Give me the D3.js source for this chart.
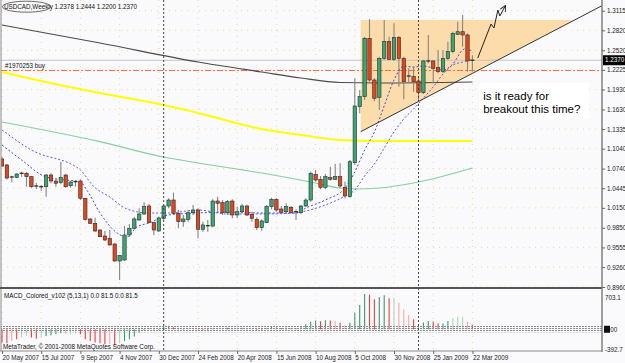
<!DOCTYPE html>
<html><head><meta charset="utf-8">
<script src="https://cdn.jsdelivr.net/npm/d3@7/dist/d3.min.js"></script>
<style>body{margin:0;background:#faf9fc;} svg{display:block;font-family:"Liberation Sans",Arial,sans-serif;}</style>
</head><body><svg id="c" width="625" height="363"></svg>
<script>
// ---- data (weekly USDCAD, week index 0 = 20 May 2007) ----
const opens = [1.0885,1.0795,1.0614,1.0610,1.0670,1.0670,1.0619,1.0479,1.0468,1.0468,1.0644,1.0554,1.0529,1.0644,1.0483,1.0544,1.0554,1.0294,0.9983,0.9918,0.9817,0.9727,0.9692,0.9607,0.9351,0.9366,0.9742,0.9843,0.9968,1.0058,1.0178,0.9927,0.9802,0.9993,1.0178,1.0268,1.0068,0.9942,0.9978,1.0077,1.0118,0.9828,0.9882,0.9877,1.0253,1.0228,1.0077,1.0253,1.0043,1.0092,1.0178,1.0053,0.9978,0.9852,0.9927,1.0168,1.0279,1.0133,1.0092,1.0159,1.0092,1.0077,1.0178,1.0268,1.0655,1.0580,1.0459,1.0604,1.0580,1.0619,1.0459,1.0318,1.0829,1.1672,1.1822,1.2700,1.2073,1.1813,1.2399,1.2649,1.2384,1.2715,1.2399,1.2133,1.2123,1.2058,1.1882,1.2359,1.2359,1.2258,1.2198,1.2399,1.2499,1.2760,1.2799,1.2750,1.2378];
const highs = [1.0915,1.0810,1.0634,1.0670,1.0694,1.0689,1.0629,1.0524,1.0494,1.0659,1.0670,1.0595,1.0844,1.0659,1.0559,1.0569,1.0580,1.0299,0.9993,1.0002,0.9827,0.9802,0.9817,0.9617,0.9441,0.9877,0.9907,1.0018,1.0144,1.0234,1.0208,0.9942,1.0018,1.0193,1.0294,1.0379,1.0118,1.0043,1.0118,1.0193,1.0144,0.9942,0.9968,1.0279,1.0318,1.0268,1.0268,1.0279,1.0168,1.0208,1.0198,1.0092,1.0008,0.9978,1.0193,1.0303,1.0294,1.0178,1.0219,1.0178,1.0128,1.0193,1.0294,1.0694,1.0719,1.0629,1.0659,1.0769,1.0810,1.0820,1.0544,1.0870,1.2099,1.1922,1.2724,1.2989,1.2099,1.2423,1.2975,1.2724,1.2926,1.2735,1.2423,1.2249,1.2273,1.2123,1.2374,1.2750,1.2374,1.2524,1.2524,1.2649,1.2799,1.2950,1.3050,1.2775,1.2444];
const lows = [1.0765,1.0577,1.0535,1.0595,1.0619,1.0468,1.0453,1.0434,1.0408,1.0318,1.0520,1.0468,1.0505,1.0453,1.0453,1.0468,1.0268,0.9957,0.9908,0.9791,0.9707,0.9652,0.9581,0.9341,0.9065,0.9356,0.9716,0.9832,0.9957,1.0043,0.9918,0.9742,0.9791,0.9968,1.0144,1.0043,0.9843,0.9867,0.9942,1.0043,0.9693,0.9791,0.9791,0.9858,1.0092,1.0043,1.0043,0.9993,0.9993,1.0068,1.0028,0.9942,0.9817,0.9806,0.9918,1.0128,1.0092,1.0058,1.0058,1.0068,0.9968,1.0058,1.0168,1.0243,1.0544,1.0429,1.0429,1.0559,1.0569,1.0444,1.0294,1.0303,1.0795,1.1572,1.1772,1.2048,1.1752,1.1622,1.2374,1.2374,1.2359,1.1972,1.1783,1.2032,1.1897,1.1747,1.1862,1.2324,1.2023,1.2174,1.2174,1.2374,1.2474,1.2750,1.2574,1.2198,1.2200];
const closes = [1.0780,1.0599,1.0614,1.0659,1.0670,1.0619,1.0468,1.0479,1.0468,1.0644,1.0554,1.0520,1.0604,1.0468,1.0539,1.0544,1.0294,0.9978,0.9918,0.9802,0.9716,0.9667,0.9592,0.9351,0.9437,0.9742,0.9843,0.9983,1.0058,1.0168,0.9927,0.9817,0.9998,1.0178,1.0268,1.0068,0.9942,0.9983,1.0077,1.0118,0.9828,0.9893,0.9882,1.0253,1.0219,1.0077,1.0243,1.0043,1.0092,1.0178,1.0043,0.9993,0.9852,0.9953,1.0168,1.0279,1.0118,1.0083,1.0168,1.0083,1.0092,1.0178,1.0268,1.0670,1.0569,1.0459,1.0619,1.0580,1.0619,1.0479,1.0329,1.0844,1.1682,1.1822,1.2700,1.2073,1.1798,1.2399,1.2649,1.2384,1.2715,1.2399,1.2047,1.2133,1.2047,1.1882,1.2359,1.2359,1.2249,1.2198,1.2399,1.2499,1.2775,1.2799,1.2750,1.2359,1.2370];

// moving averages: [week index, price]
const maDark   = [[0,1.2900],[20,1.2629],[40,1.2344],[53,1.2193],[61,1.2103],[69,1.2035],[77,1.2028],[96,1.2043]];
const maYellow = [[0,1.2193],[7,1.2073],[20,1.1878],[33,1.1697],[40,1.1577],[54,1.1321],[61,1.1246],[69,1.1171],[77,1.1156],[96,1.1156]];
const maGreen  = [[0,1.1441],[20,1.1145],[33,1.0915],[40,1.0825],[53,1.0674],[63,1.0539],[69,1.0449],[72,1.0434],[77,1.0449],[85,1.0539],[96,1.0750]];
const maFast   = [[0,1.1095],[4,1.0870],[9,1.0614],[13,1.0569],[16,1.0539],[17.3,1.0419],[20,1.0073],[23.5,0.9772],[25.5,0.9712],[27.5,0.9862],[30,0.9922],[34,1.0043],[40,1.0073],[46,1.0088],[53,1.0073],[60,1.0073],[62,1.0148],[66,1.0268],[70,1.0449],[72,1.0690],[74,1.1020],[76,1.1291],[78,1.1682],[80,1.2073],[82,1.2283],[84,1.2268],[86,1.2283],[88,1.2253],[90,1.2223],[92,1.2313],[94,1.2524],[95,1.2554],[96,1.2479]];
const maSlow   = [[0,1.1321],[6,1.1020],[16,1.0719],[18.6,1.0479],[22,1.0313],[25.5,1.0133],[30,1.0073],[34,1.0073],[40,1.0118],[46,1.0058],[53,1.0058],[60,1.0073],[62,1.0103],[66,1.0193],[70,1.0328],[72,1.0419],[74,1.0630],[76,1.0810],[78,1.1050],[80,1.1291],[82,1.1487],[84,1.1637],[86,1.1802],[88,1.1968],[90,1.2163],[92,1.2298],[94,1.2343],[96,1.2389]];

const macd = [-265,-279,-232,-199,-166,-133,-166,-186,-166,-133,-119,-100,-80,-100,-100,-80,-100,-199,-232,-265,-279,-298,-298,-318,-279,-232,-199,-146,-66,
 -20,20,-10,-15,60,70,40,10,-10,5,20,-10,-25,-30,10,25,20,30,10,15,30,25,5,-20,-20,15,45,35,25,30,25,20,40,
 100,150,175,160,178,175,165,130,80,130,332,484,703,690,597,643,676,617,630,531,398,285,199,100,133,166,153,113,113,166,219,252,252,153,86];
const macdColor = ["r","r","lr","r","lg","lg","r","r","lg","g","g","g","g","lr","lg","lg","r","r","r","r","r","r","lr","r","lg","g","g","g","g",
 "g","g","r","g","g","g","r","r","r","g","g","r","r","r","g","g","r","g","r","g","g","r","r","r","g","g","g","r","r","g","r","r","g",
 "g","g","g","r","g","r","lr","r","lr","g","g","g","g","r","r","g","g","r","lg","lr","lr","lr","r","lr","g","g","r","r","g","g","lg","lg","lg","lr","r"];

const priceTicks = [1.3115,1.2820,1.2520,1.2225,1.1930,1.1630,1.1335,1.1040,1.0740,1.0445,1.0150,0.9850,0.9555,0.9260,0.8960];
const dateTickIdx = [0,8,16,24,32,40,48,56,64,72,80,88,96];
const dateTickLabels = ["20 May 2007","15 Jul 2007","9 Sep 2007","4 Nov 2007","30 Dec 2007","24 Feb 2008","20 Apr 2008","15 Jun 2008","10 Aug 2008","5 Oct 2008","30 Nov 2008","25 Jan 2009","22 Mar 2009"];
const yearSeparators = [33,85];
const macdTicks = [703.1,0,-392.7];

// drawings (data coordinates)
const triangle = [[73.2,1.2975],[116.7,1.2975],[73.2,1.1296]];
const trendPts = [[73.2,1.1296],[98.6,1.2273]];
const arrowPts = [[97.1,1.2404],[99.8,1.2915],[100.4,1.2855],[101.2,1.3125],[101.6,1.3035],[102.7,1.3186]];
const bidPrice = 1.2370, orderPrice = 1.2215;
const noteAnchor = [98.2,1.1772];

// ---- scales ----
const W=625,H=363, PR=602, MAINB=288, BOT=351;
const x = d3.scaleLinear().domain([0,96]).range([2,472.4]);
const y = d3.scaleLinear().domain([0.896,1.3115]).range([287,10.7]);
const ym = d3.scaleLinear().domain([-392.7,703.1]).range([349,294]);

const svg = d3.select("#c");
const defs = svg.append("defs");
defs.append("clipPath").attr("id","mainclip").append("rect").attr("x",1).attr("y",0).attr("width",PR-1).attr("height",MAINB);
const pat = defs.append("pattern").attr("id","band").attr("width",3).attr("height",2).attr("patternUnits","userSpaceOnUse");
pat.append("rect").attr("width",2).attr("height",1).attr("fill","#8c8c8c");
defs.append("marker").attr("id","ah").attr("viewBox","0 0 10 10").attr("refX",9).attr("refY",5)
  .attr("markerWidth",6).attr("markerHeight",6).attr("orient","auto")
  .append("path").attr("d","M0,0 L10,5 L0,10").attr("fill","none").attr("stroke","#222").attr("stroke-width",1.5);

svg.append("rect").attr("width",W).attr("height",H).attr("fill","#faf9fc");

// grid (dotted)
const grid = svg.append("g").attr("stroke","#f1d79c").attr("stroke-width",1).attr("stroke-dasharray","1 5");
grid.selectAll("line.h").data(priceTicks).join("line").attr("x1",1).attr("x2",PR).attr("y1",d=>y(d)).attr("y2",d=>y(d));
grid.selectAll("line.v").data(dateTickIdx).join("line").attr("x1",d=>x(d)).attr("x2",d=>x(d)).attr("y1",0).attr("y2",BOT);

const main = svg.append("g").attr("clip-path","url(#mainclip)");
// triangle
main.append("path").attr("d", d3.line().x(d=>x(d[0])).y(d=>y(d[1]))(triangle)+"Z").attr("fill","#fcdcab");

// bid & order lines
main.append("line").attr("x1",1).attr("x2",PR).attr("y1",y(bidPrice)).attr("y2",y(bidPrice)).attr("stroke","#c4c4c4");
main.append("line").attr("x1",1).attr("x2",PR).attr("y1",y(orderPrice)).attr("y2",y(orderPrice)).attr("stroke","#ff6a3d").attr("stroke-dasharray","6 2 2 2");

// MAs
const ln = d3.line().x(d=>x(d[0])).y(d=>y(d[1])).curve(d3.curveMonotoneX);
main.append("path").attr("d",ln(maYellow)).attr("fill","none").attr("stroke","#ffff00").attr("stroke-width",2);
main.append("path").attr("d",ln(maGreen)).attr("fill","none").attr("stroke","#86cfa2").attr("stroke-width",1.2);
main.append("path").attr("d",ln(maDark)).attr("fill","none").attr("stroke","#4a4a4a").attr("stroke-width",1.2);
main.append("path").attr("d",ln(maSlow)).attr("fill","none").attr("stroke","#5a5aee").attr("stroke-width",1).attr("stroke-dasharray","2 2");
main.append("path").attr("d",ln(maFast)).attr("fill","none").attr("stroke","#4848e8").attr("stroke-width",1).attr("stroke-dasharray","2 2");

// candles
const idx = d3.range(opens.length);
const cg = main.append("g");
cg.selectAll("line.w").data(idx).join("line").attr("x1",i=>x(i)).attr("x2",i=>x(i))
  .attr("y1",i=>y(highs[i])).attr("y2",i=>y(lows[i])).attr("stroke","#858585").attr("stroke-width",1.1);
const isDoji = i => Math.abs(opens[i]-closes[i]) < 0.0012;
cg.selectAll("rect.b").data(idx.filter(i=>!isDoji(i))).join("rect")
  .attr("x",i=>x(i)-1.7).attr("width",3.4)
  .attr("y",i=>y(Math.max(opens[i],closes[i])))
  .attr("height",i=>Math.max(1,Math.abs(y(opens[i])-y(closes[i]))))
  .attr("fill",i=>closes[i]>opens[i]?"#37a873":"#e4461c").attr("stroke","#2b2b2b").attr("stroke-width",0.6);
cg.selectAll("line.d").data(idx.filter(isDoji)).join("line")
  .attr("x1",i=>x(i)-2).attr("x2",i=>x(i)+2).attr("y1",i=>y(closes[i])).attr("y2",i=>y(closes[i]))
  .attr("stroke","#222").attr("stroke-width",1.2);

// trendline extended to the right edge
const slope = (trendPts[1][1]-trendPts[0][1])/(trendPts[1][0]-trendPts[0][0]);
const kEnd = x.invert(PR);
main.append("line").attr("x1",x(trendPts[0][0])).attr("y1",y(trendPts[0][1]))
  .attr("x2",x(kEnd)).attr("y2",y(trendPts[0][1]+slope*(kEnd-trendPts[0][0])))
  .attr("stroke","#333").attr("stroke-width",1);

// arrow
main.append("path").attr("d",d3.line().x(d=>x(d[0])).y(d=>y(d[1]))(arrowPts)).attr("fill","none")
  .attr("stroke","#222").attr("stroke-width",1).attr("marker-end","url(#ah)");

// note
const nx = x(noteAnchor[0]), ny = y(noteAnchor[1]);
svg.append("rect").attr("x",nx-4).attr("y",ny-17).attr("width",110).attr("height",36).attr("fill","#ffffff");
svg.append("text").attr("x",nx).attr("y",ny).attr("font-size",11.5).attr("fill","#000").text("is it ready for");
svg.append("text").attr("x",nx).attr("y",ny+13).attr("font-size",11.5).attr("fill","#000").text("breakout this time?");

// MACD histogram
const mg = svg.append("g");
const mcol = {g:"#3d9a6b",r:"#f23d3d",lg:"#a9d9b9",lr:"#f8a9a9"};
mg.selectAll("line").data(idx).join("line").attr("x1",i=>x(i)).attr("x2",i=>x(i))
  .attr("y1",ym(0)).attr("y2",i=>ym(macd[i])).attr("stroke",i=>mcol[macdColor[i]]).attr("stroke-width",1.1);
svg.append("rect").attr("x",1).attr("y",ym(0)-4).attr("width",PR-1).attr("height",7).attr("fill","url(#band)");

// year separators
svg.selectAll("line.sep").data(yearSeparators).join("line").attr("x1",d=>x(d)).attr("x2",d=>x(d))
  .attr("y1",0).attr("y2",BOT).attr("stroke","#444").attr("stroke-dasharray","2 2");

// borders
svg.append("line").attr("x1",1).attr("x2",1).attr("y1",0).attr("y2",BOT).attr("stroke","#8a8a8a");
svg.append("line").attr("x1",0).attr("x2",PR).attr("y1",MAINB).attr("y2",MAINB).attr("stroke","#555").attr("stroke-width",2);
svg.append("line").attr("x1",0).attr("x2",PR).attr("y1",BOT).attr("y2",BOT).attr("stroke","#8a8a8a");
svg.append("line").attr("x1",PR).attr("x2",PR).attr("y1",0).attr("y2",BOT+1).attr("stroke","#808080").attr("stroke-width",1.5);

// axes
const fs = 6.3;
const ax = svg.append("g").attr("transform",`translate(${PR},0)`)
  .call(d3.axisRight(y).tickValues(priceTicks).tickSize(3).tickPadding(2).tickFormat(d=>d.toFixed(4)));
ax.select(".domain").remove();
ax.selectAll("text").attr("font-size",fs).attr("fill","#222").attr("font-family","Liberation Sans, Arial");
ax.selectAll("line").attr("stroke","#666");

const axm = svg.append("g").attr("transform",`translate(${PR},0)`)
  .call(d3.axisRight(ym).tickValues(macdTicks).tickSize(0).tickPadding(3).tickFormat(d=>d===0?"0.00":d.toFixed(1)));
axm.select(".domain").remove();
axm.selectAll("text").attr("font-size",fs).attr("fill","#222").attr("font-family","Liberation Sans, Arial");
axm.selectAll("text").filter(d=>d===703.1).attr("dy","0.9em");
// current MACD value marker
svg.append("rect").attr("x",PR+2).attr("y",ym(0)-3.5).attr("width",6).attr("height",7).attr("fill","#111");

// bid price label
svg.append("rect").attr("x",PR+1).attr("y",y(bidPrice)-5).attr("width",22).attr("height",10).attr("fill","#000");
svg.append("text").attr("x",PR+3).attr("y",y(bidPrice)+2.2).attr("font-size",fs).attr("fill","#fff").text(bidPrice.toFixed(4));

const bx = svg.append("g").attr("transform",`translate(0,${BOT})`)
  .call(d3.axisBottom(x).tickValues(dateTickIdx).tickSize(3).tickPadding(2).tickFormat((d,i)=>dateTickLabels[i]));
bx.select(".domain").remove();
bx.selectAll("text").attr("font-size",fs).attr("fill","#222").attr("text-anchor","start").attr("font-family","Liberation Sans, Arial");
bx.selectAll("line").attr("stroke","#666");

// header texts
svg.append("ellipse").attr("cx",26.5).attr("cy",6.7).attr("rx",24).attr("ry",5.5).attr("fill","none").attr("stroke","#444").attr("stroke-width",0.8);
svg.append("text").attr("x",4).attr("y",9).attr("font-size",fs).attr("fill","#111").text("USDCAD,Weekly  1.2378 1.2444 1.2200 1.2370");
svg.append("text").attr("x",5).attr("y",y(orderPrice)-2.5).attr("font-size",fs).attr("fill","#111").text("#1970253 buy");
svg.append("text").attr("x",4).attr("y",298).attr("font-size",fs).attr("fill","#111").text("MACD_Colored_v102 (5,13,1) 0.0 81.5 0.0 81.5");
svg.append("text").attr("x",3).attr("y",349).attr("font-size",fs).attr("fill","#111").text("MetaTrader, © 2001-2008 MetaQuotes Software Corp.");
</script></body></html>
